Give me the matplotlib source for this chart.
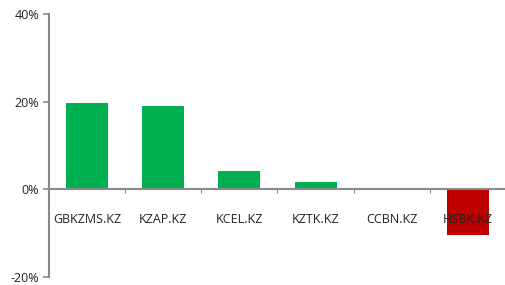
import matplotlib
matplotlib.use("Agg")
import matplotlib.pyplot as plt
from matplotlib.ticker import FixedLocator, PercentFormatter

plt.rcParams["axes.unicode_minus"] = False

tickers = ["GBKZMS.KZ", "KZAP.KZ", "KCEL.KZ", "KZTK.KZ", "CCBN.KZ", "HSBK.KZ"]
returns = [19.6, 19.1, 4.1, 1.6, 0.0, -10.5]
yticks = [-20, 0, 20, 40]

green = "#00B050"
red = "#C00000"
gray = "#898989"

fig = plt.figure(figsize=(5.06, 2.85), dpi=100)
ax = fig.add_axes([49/506, 8/285, 1 - 49/506, 1 - 8/285 - 14/285])

colors = [green if v >= 0 else red for v in returns]
x = list(range(len(tickers)))
ax.bar(x, returns, width=0.55, color=colors, zorder=1)

ax.set_xlim(-0.5, len(tickers) - 0.5)
ax.set_ylim(-20, 40)
ax.set_yticks(yticks)
ax.yaxis.set_major_formatter(PercentFormatter(decimals=0))

for s in ["top", "right"]:
    ax.spines[s].set_visible(False)
ax.spines["bottom"].set_position(("data", 0))
ax.spines["bottom"].set_color(gray)
ax.spines["bottom"].set_linewidth(1.5)
ax.spines["left"].set_color(gray)
ax.spines["left"].set_linewidth(1.5)

ax.set_xticks(x)
ax.set_xticklabels(tickers)
ax.xaxis.set_minor_locator(FixedLocator([i + 0.5 for i in range(len(tickers) - 1)]))
ax.tick_params(axis="x", which="major", length=0, pad=17, labelsize=9, labelcolor="#222222")
ax.tick_params(axis="x", which="minor", length=3, color=gray, width=0.8)
ax.tick_params(axis="y", length=4, color=gray, width=1.2, labelsize=9, labelcolor="#222222", pad=3)

for lab in ax.get_xticklabels() + ax.get_yticklabels():
    lab.set_fontfamily("Open Sans")

fig.savefig("out.png", dpi=100)
